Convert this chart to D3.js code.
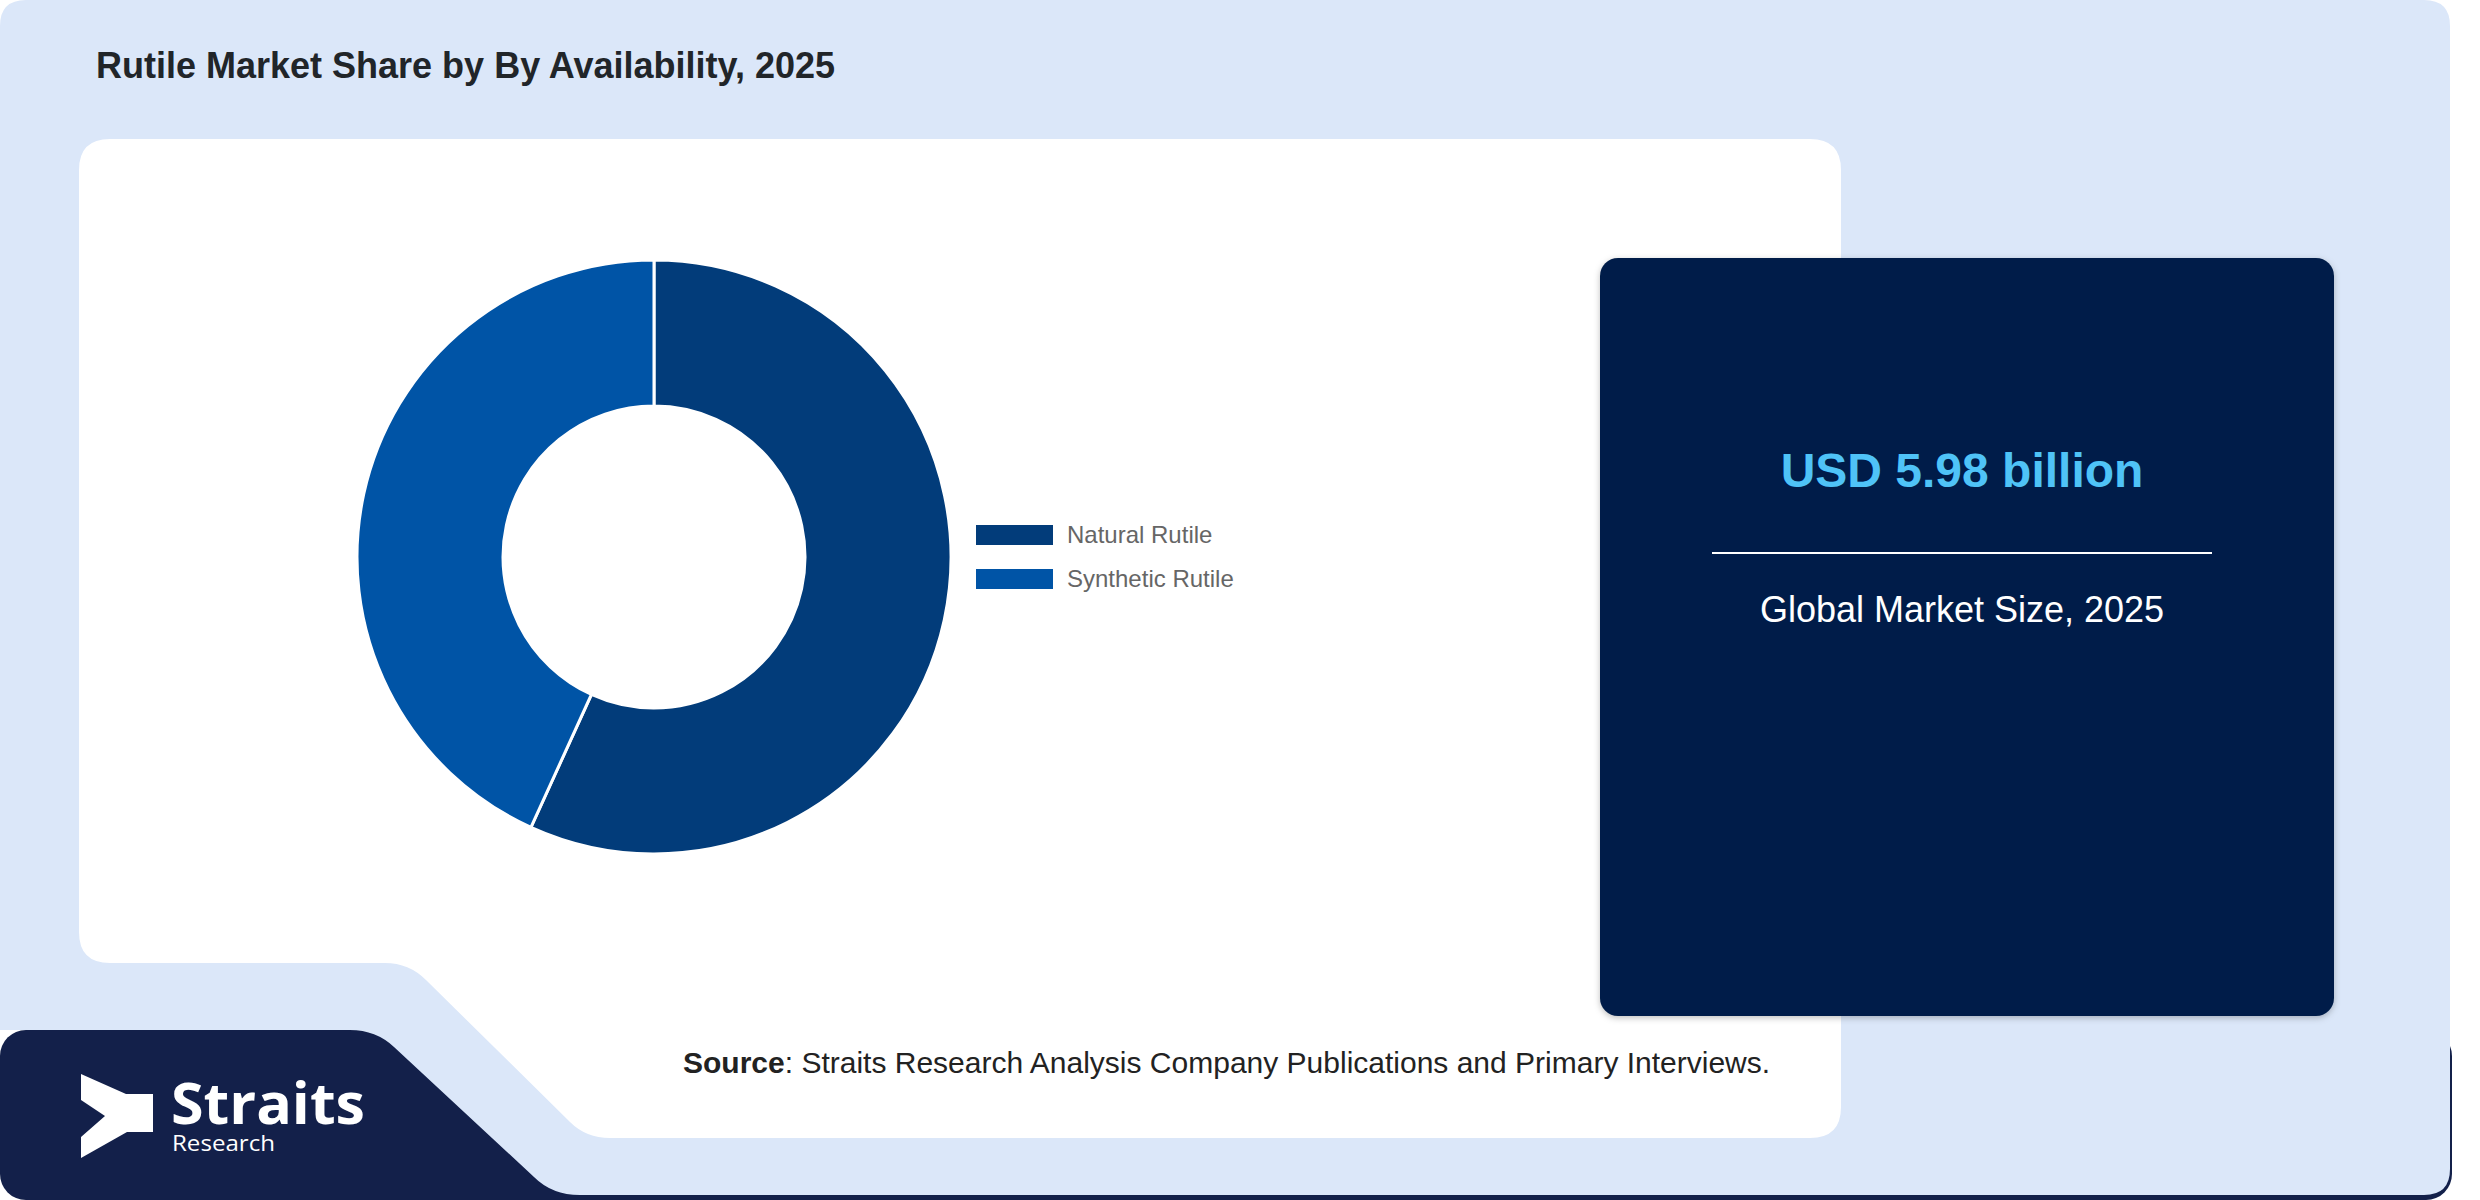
<!DOCTYPE html>
<html>
<head>
<meta charset="utf-8">
<script src="https://cdn.jsdelivr.net/npm/d3@7"></script>
<style>
  html, body { margin: 0; padding: 0; background: #ffffff; }
  svg { display: block; }
</style>
</head>
<body>
<svg id="chart" width="2480" height="1200"></svg>
<script>
// ============================================================
// DATA
// ============================================================
const categories = ['Natural Rutile', 'Synthetic Rutile'];
const shares = [56.8, 43.2];
const sliceColors = ['#023c7a', '#0054a6'];

const chartTitle = 'Rutile Market Share by By Availability, 2025';
const marketValue = 'USD 5.98 billion';
const marketLabel = 'Global Market Size, 2025';
const sourceLabel = 'Source';
const sourceText = ': Straits Research Analysis Company Publications and Primary Interviews.';

// ============================================================
// BACKGROUND SHAPES
// ============================================================
const svg = d3.select('#chart');

// navy strip behind the logo
svg.append('rect')
  .attr('x', 0).attr('y', 1030)
  .attr('width', 2452).attr('height', 170)
  .attr('rx', 26)
  .attr('fill', '#13204a');

// light blue frame with the logo cut-out
svg.append('path')
  .attr('fill', '#dbe7f9')
  .attr('d', [
    'M0,26', 'Q0,0 26,0', 'L2424,0', 'Q2450,0 2450,26',
    'L2450,1169', 'Q2450,1195 2424,1195',
    'L580,1195', 'Q552,1195 534,1177',
    'L394,1047', 'Q376,1030 350,1030',
    'L0,1030', 'Z'
  ].join(' '));

// white chart panel
svg.append('path')
  .attr('fill', '#ffffff')
  .attr('d', [
    'M79,170', 'Q79,139 110,139', 'L1810,139', 'Q1841,139 1841,170',
    'L1841,1107', 'Q1841,1138 1810,1138',
    'L610,1138', 'Q586,1138 570,1122',
    'L426,980', 'Q409,963 385,963',
    'L110,963', 'Q79,963 79,932', 'Z'
  ].join(' '));

// title
svg.append('text')
  .attr('x', 96).attr('y', 78)
  .attr('font-family', '"Liberation Sans", Arial, sans-serif')
  .attr('font-weight', 'bold')
  .attr('font-size', 36)
  .attr('fill', '#212529')
  .text(chartTitle);

// ============================================================
// DONUT
// ============================================================
const cx = 654, cy = 557;
const outerR = 297, innerR = 151;

const pie = d3.pie().sort(null).value(d => d.value);
const arc = d3.arc().innerRadius(innerR).outerRadius(outerR);
const pieData = pie(categories.map((c, i) => ({ name: c, value: shares[i] })));

const donut = svg.append('g').attr('transform', `translate(${cx},${cy})`);
donut.selectAll('path')
  .data(pieData)
  .join('path')
  .attr('d', arc)
  .attr('fill', (d, i) => sliceColors[i])
  .attr('stroke', '#ffffff')
  .attr('stroke-width', 3);

// legend
const legend = svg.append('g').attr('transform', 'translate(976,525)');
const items = legend.selectAll('g')
  .data(categories)
  .join('g')
  .attr('transform', (d, i) => `translate(0,${i * 44})`);
items.append('rect')
  .attr('width', 77).attr('height', 20)
  .attr('fill', (d, i) => sliceColors[i]);
items.append('text')
  .attr('x', 91).attr('y', 10)
  .attr('dy', '0.35em')
  .attr('font-family', '"Liberation Sans", Arial, sans-serif')
  .attr('font-size', 24)
  .attr('fill', '#666666')
  .text(d => d);

// ============================================================
// MARKET SIZE CARD
// ============================================================
const defs = svg.append('defs');
const shadow = defs.append('filter').attr('id', 'cardShadow')
  .attr('x', '-5%').attr('y', '-5%').attr('width', '110%').attr('height', '110%');
shadow.append('feDropShadow')
  .attr('dx', 0).attr('dy', 2).attr('stdDeviation', 3)
  .attr('flood-color', '#000000').attr('flood-opacity', 0.25);

svg.append('rect')
  .attr('x', 1600).attr('y', 258)
  .attr('width', 734).attr('height', 758)
  .attr('rx', 18)
  .attr('fill', '#001e48')
  .attr('filter', 'url(#cardShadow)');

const cardX = 1962;
svg.append('text')
  .attr('x', cardX).attr('y', 487)
  .attr('text-anchor', 'middle')
  .attr('font-family', '"Liberation Sans", Arial, sans-serif')
  .attr('font-weight', 'bold')
  .attr('font-size', 48)
  .attr('fill', '#4fc3f7')
  .text(marketValue);

svg.append('line')
  .attr('x1', 1712).attr('x2', 2212)
  .attr('y1', 553).attr('y2', 553)
  .attr('stroke', '#ffffff')
  .attr('stroke-width', 2);

svg.append('text')
  .attr('x', cardX).attr('y', 622)
  .attr('text-anchor', 'middle')
  .attr('font-family', '"Liberation Sans", Arial, sans-serif')
  .attr('font-size', 36)
  .attr('fill', '#ffffff')
  .text(marketLabel);

// ============================================================
// SOURCE + LOGO
// ============================================================
const src = svg.append('text')
  .attr('x', 683).attr('y', 1073)
  .attr('font-family', '"Liberation Sans", Arial, sans-serif')
  .attr('font-size', 30)
  .attr('fill', '#222222');
src.append('tspan').attr('font-weight', 'bold').text(sourceLabel);
src.append('tspan').text(sourceText);

const logo = svg.append('g');
logo.append('path')
  .attr('fill', '#ffffff')
  .attr('d', 'M81,1074 L126,1094 L153,1094 L153,1132 L127,1132 L81,1158 L81,1137 L105,1116 L81,1100 Z');
logo.append('text')
  .attr('x', 171).attr('y', 1124)
  .attr('font-family', '"Open Sans", sans-serif')
  .attr('font-weight', 'bold')
  .attr('font-size', 57)
  .attr('textLength', 194)
  .attr('lengthAdjust', 'spacingAndGlyphs')
  .attr('fill', '#ffffff')
  .text('Straits');
logo.append('text')
  .attr('x', 172).attr('y', 1151)
  .attr('font-family', '"Open Sans", sans-serif')
  .attr('font-size', 21)
  .attr('textLength', 103)
  .attr('lengthAdjust', 'spacingAndGlyphs')
  .attr('fill', '#ffffff')
  .text('Research');
</script>
</body>
</html>
